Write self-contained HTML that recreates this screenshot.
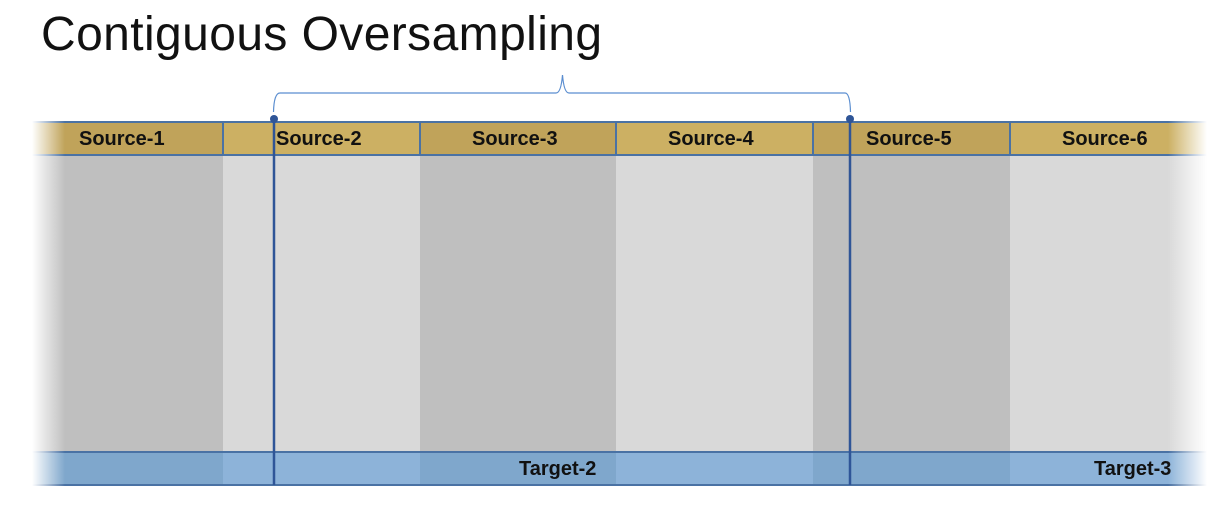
<!DOCTYPE html>
<html><head><style>
body{margin:0;width:1229px;height:506px;background:#fff;position:relative;overflow:hidden;font-family:"Liberation Sans",sans-serif}
.a{position:absolute}
.h{position:absolute;top:121px;height:31px;border-top:2px solid #4a72a4;border-bottom:2px solid #4a72a4}
.lbl{position:absolute;font-weight:bold;font-size:20px;color:#111;line-height:33px}
.t{position:absolute;top:451px;height:31px;border-top:2px solid #4a72a4;border-bottom:2px solid #4a72a4}
</style></head><body>
<div class="a" style="left:41px;top:7px;font-size:48px;line-height:55px;color:#111;font-weight:normal;letter-spacing:0.4px;white-space:nowrap">Contiguous Oversampling</div>

<div class="a" style="left:30px;top:155px;width:193px;height:296px;background:#bfbfbf"></div>
<div class="a" style="left:223px;top:155px;width:197px;height:296px;background:#d9d9d9"></div>
<div class="a" style="left:420px;top:155px;width:196px;height:296px;background:#bfbfbf"></div>
<div class="a" style="left:616px;top:155px;width:197px;height:296px;background:#d9d9d9"></div>
<div class="a" style="left:813px;top:155px;width:197px;height:296px;background:#bfbfbf"></div>
<div class="a" style="left:1010px;top:155px;width:200px;height:296px;background:#d9d9d9"></div>

<div class="h" style="left:30px;width:193px;background:#c0a35a"></div>
<div class="h" style="left:223px;width:197px;background:#ccb063"></div>
<div class="h" style="left:420px;width:196px;background:#c0a35a"></div>
<div class="h" style="left:616px;width:197px;background:#ccb063"></div>
<div class="h" style="left:813px;width:197px;background:#c0a35a"></div>
<div class="h" style="left:1010px;width:200px;background:#ccb063"></div>
<div class="a" style="left:222px;top:121px;width:2px;height:35px;background:#4a72a4"></div>
<div class="a" style="left:419px;top:121px;width:2px;height:35px;background:#4a72a4"></div>
<div class="a" style="left:615px;top:121px;width:2px;height:35px;background:#4a72a4"></div>
<div class="a" style="left:812px;top:121px;width:2px;height:35px;background:#4a72a4"></div>
<div class="a" style="left:1009px;top:121px;width:2px;height:35px;background:#4a72a4"></div>
<div class="lbl" style="left:79px;top:123px">Source-1</div>
<div class="lbl" style="left:276px;top:123px">Source-2</div>
<div class="lbl" style="left:472px;top:123px">Source-3</div>
<div class="lbl" style="left:668px;top:123px">Source-4</div>
<div class="lbl" style="left:866px;top:123px">Source-5</div>
<div class="lbl" style="left:1062px;top:123px">Source-6</div>

<div class="t" style="left:30px;width:193px;background:#7fa7cc"></div>
<div class="t" style="left:223px;width:197px;background:#8db3d9"></div>
<div class="t" style="left:420px;width:196px;background:#7fa7cc"></div>
<div class="t" style="left:616px;width:197px;background:#8db3d9"></div>
<div class="t" style="left:813px;width:197px;background:#7fa7cc"></div>
<div class="t" style="left:1010px;width:200px;background:#8db3d9"></div>
<div class="lbl" style="left:519px;top:453px">Target-2</div>
<div class="lbl" style="left:1094px;top:453px">Target-3</div>

<div class="a" style="left:0;top:115px;width:65px;height:380px;background:linear-gradient(to right,#fff 32px,rgba(255,255,255,0))"></div>
<div class="a" style="left:1168px;top:115px;width:61px;height:380px;background:linear-gradient(to left,#fff 22px,rgba(255,255,255,0))"></div>

<svg class="a" style="left:0;top:0" width="1229" height="506">
<path d="M273.5 112 Q274 93 280 93 L556 93 Q561 93 562.5 75 Q564 93 569 93 L845 93 Q850 93 850.5 112" fill="none" stroke="#5b8ed0" stroke-width="1.2"/>
<line x1="274" y1="119" x2="274" y2="485" stroke="#2f5597" stroke-width="2.5"/>
<line x1="850" y1="119" x2="850" y2="485" stroke="#2f5597" stroke-width="2.5"/>
<circle cx="274" cy="119" r="4" fill="#2f5597"/>
<circle cx="850" cy="119" r="4" fill="#2f5597"/>
</svg>
</body></html>
